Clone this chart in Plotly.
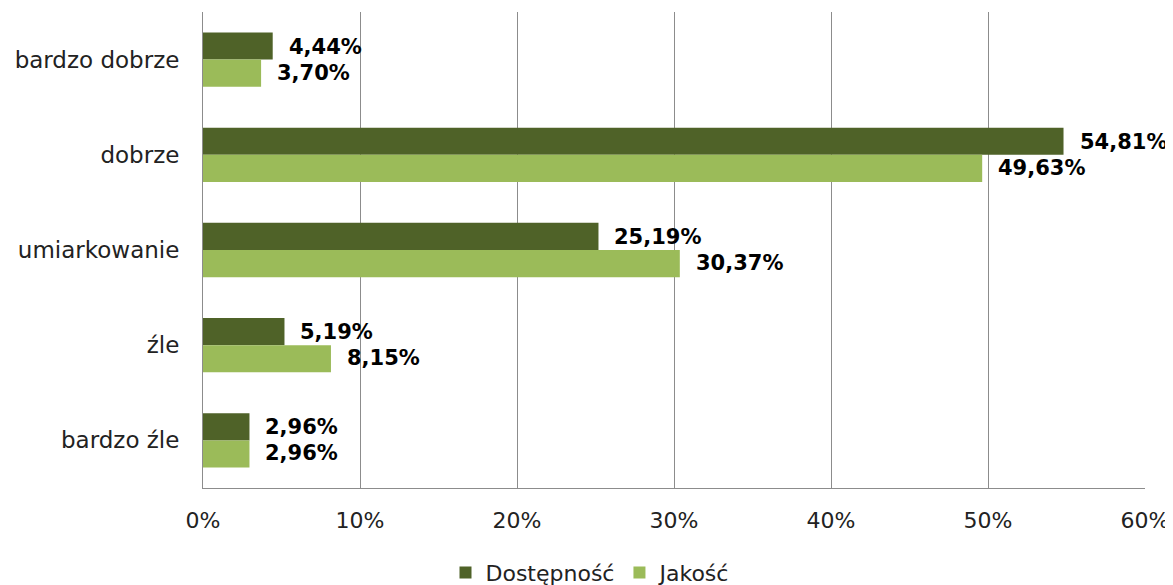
import plotly.graph_objects as go

categories = ["bardzo dobrze", "dobrze", "umiarkowanie", "źle", "bardzo źle"]
dostepnosc = [4.44, 54.81, 25.19, 5.19, 2.96]
jakosc = [3.70, 49.63, 30.37, 8.15, 2.96]
series_names = ["Dostępność", "Jakość"]
tick_vals = [0, 10, 20, 30, 40, 50, 60]
tick_text = ["0%", "10%", "20%", "30%", "40%", "50%", "60%"]

DARK = "#4F6228"
LIGHT = "#9BBB59"
FONT = "DejaVu Sans"

def fmt(v):
    return f"{v:.2f}".replace(".", ",") + "%"

fig = go.Figure()
fig.add_trace(go.Bar(y=categories, x=dostepnosc, name=series_names[0], orientation="h",
                     marker=dict(color=DARK, line=dict(width=0))))
fig.add_trace(go.Bar(y=categories, x=jakosc, name=series_names[1], orientation="h",
                     marker=dict(color=LIGHT, line=dict(width=0))))

annotations = []
for cat, v in zip(categories, dostepnosc):
    annotations.append(dict(x=v, y=cat, text=fmt(v), showarrow=False, xanchor="left",
                            xshift=14, yshift=13,
                            font=dict(family=FONT, size=21, color="black", weight="bold")))
for cat, v in zip(categories, jakosc):
    annotations.append(dict(x=v, y=cat, text=fmt(v), showarrow=False, xanchor="left",
                            xshift=14, yshift=-13,
                            font=dict(family=FONT, size=21, color="black", weight="bold")))

fig.update_layout(
    width=1165, height=577,
    margin=dict(l=195, r=28, t=4, b=97, autoexpand=False),
    barmode="group", bargap=0.43, bargroupgap=0,
    plot_bgcolor="white", paper_bgcolor="white",
    font=dict(family=FONT, size=20, color="#222222"),
    annotations=annotations,
    legend=dict(orientation="h", xref="container", x=0.5, xanchor="center",
                yref="paper", y=-0.178, yanchor="middle",
                font=dict(size=22), itemwidth=30, traceorder="normal"),
    xaxis=dict(range=[0, 60], tickvals=tick_vals, ticktext=tick_text,
               showgrid=True, gridcolor="#8C8C8C", gridwidth=1,
               showline=True, linecolor="#8C8C8C", linewidth=1, automargin=False,
               ticks="", ticklabelstandoff=13, zeroline=False, fixedrange=True,
               tickfont=dict(size=22)),
    yaxis=dict(autorange="reversed", showline=True, linecolor="#8C8C8C", linewidth=1,
               ticks="", ticklabelstandoff=18, showgrid=False, fixedrange=True,
               automargin=False, tickfont=dict(size=23)),
)

fig.write_html("out.html")
